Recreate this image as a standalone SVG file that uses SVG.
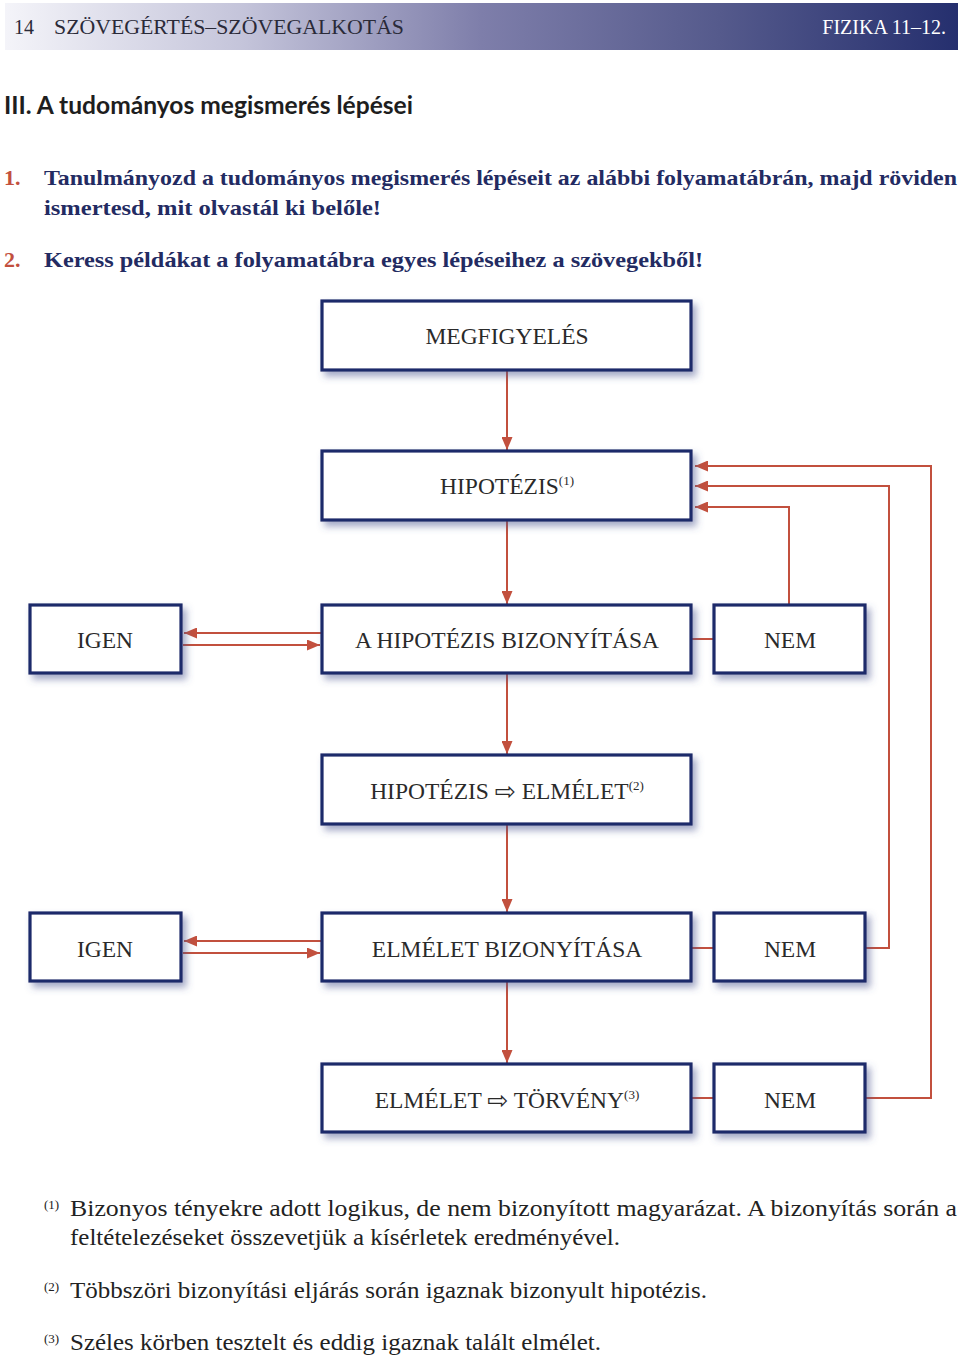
<svg xmlns="http://www.w3.org/2000/svg" width="960" height="1359" viewBox="0 0 960 1359">
<defs>
<linearGradient id="hdr" x1="0" y1="0" x2="1" y2="0">
<stop offset="0" stop-color="#f4f4f9"/>
<stop offset="0.25" stop-color="#c4c4da"/>
<stop offset="0.5" stop-color="#7e7eaa"/>
<stop offset="0.75" stop-color="#555a8c"/>
<stop offset="1" stop-color="#252f6e"/>
</linearGradient>
<filter id="sh" x="-10%" y="-20%" width="125%" height="150%">
<feDropShadow dx="4" dy="5" stdDeviation="3.5" flood-color="#4a5590" flood-opacity="0.5"/>
</filter>
<marker id="ah" viewBox="0 0 13 11" refX="13" refY="5.5" markerWidth="13" markerHeight="11" markerUnits="userSpaceOnUse" orient="auto">
<path d="M0,0 L13,5.5 L0,11 Z" fill="#c2503e"/>
</marker>
<style>
.box{fill:#fff;stroke:#1f2a6a;stroke-width:3.2;filter:url(#sh)}
.lbl{font-family:"Liberation Serif","DejaVu Serif",serif;font-size:23.5px;fill:#2a2a2a;text-anchor:middle}
.sup{font-size:13px}
.arr{font-family:"DejaVu Sans",sans-serif;font-size:25px}
.con{fill:none;stroke:#c2503e;stroke-width:2}
.q{font-family:"Liberation Serif","DejaVu Serif",serif;font-weight:bold;font-size:22px;fill:#232b62}
.qn{font-family:"Liberation Serif","DejaVu Serif",serif;font-weight:bold;font-size:22px;fill:#c2503e}
.fn{font-family:"Liberation Serif","DejaVu Serif",serif;font-size:22.5px;fill:#222}
.fs{font-family:"Liberation Serif","DejaVu Serif",serif;font-size:13px;fill:#222}
</style>
</defs>
<rect x="0" y="0" width="960" height="1359" fill="#fff"/>

<g id="header">
<rect x="5" y="3" width="953" height="47" fill="url(#hdr)"/>
<text x="14" y="34" font-family="Liberation Serif,serif" font-size="20" fill="#2a2a38">14</text>
<text x="54" y="34" font-family="Liberation Serif,serif" font-size="20" fill="#2a2a38" textLength="350" lengthAdjust="spacingAndGlyphs">SZÖVEGÉRTÉS–SZÖVEGALKOTÁS</text>
<text x="946" y="34" font-family="Liberation Serif,serif" font-size="20" fill="#fff" text-anchor="end">FIZIKA 11–12.</text>
</g>

<g id="title">
<text x="4" y="114" font-family="Lato,'Liberation Sans',sans-serif" font-weight="bold" font-size="24" fill="#1e1e1e" textLength="409" lengthAdjust="spacingAndGlyphs">III. A tudományos megismerés lépései</text>
</g>

<g id="tasks">
<text x="4" y="185" class="qn">1.</text>
<text x="44" y="185" class="q" textLength="913" lengthAdjust="spacingAndGlyphs">Tanulmányozd a tudományos megismerés lépéseit az alábbi folyamatábrán, majd röviden</text>
<text x="44" y="215" class="q" textLength="337" lengthAdjust="spacingAndGlyphs">ismertesd, mit olvastál ki belőle!</text>
<text x="4" y="267" class="qn">2.</text>
<text x="44" y="267" class="q" textLength="659" lengthAdjust="spacingAndGlyphs">Keress példákat a folyamatábra egyes lépéseihez a szövegekből!</text>
</g>

<g id="connectors">
<line class="con" x1="507" y1="371" x2="507" y2="450" marker-end="url(#ah)"/>
<line class="con" x1="507" y1="521" x2="507" y2="604" marker-end="url(#ah)"/>
<line class="con" x1="507" y1="674" x2="507" y2="754" marker-end="url(#ah)"/>
<line class="con" x1="507" y1="825" x2="507" y2="912" marker-end="url(#ah)"/>
<line class="con" x1="507" y1="982" x2="507" y2="1063" marker-end="url(#ah)"/>
<line class="con" x1="321" y1="633" x2="184" y2="633" marker-end="url(#ah)"/>
<line class="con" x1="183" y1="645" x2="320" y2="645" marker-end="url(#ah)"/>
<line class="con" x1="321" y1="941" x2="184" y2="941" marker-end="url(#ah)"/>
<line class="con" x1="183" y1="953" x2="320" y2="953" marker-end="url(#ah)"/>
<line class="con" x1="692" y1="639" x2="714" y2="639"/>
<line class="con" x1="692" y1="948" x2="714" y2="948"/>
<line class="con" x1="692" y1="1098" x2="714" y2="1098"/>
<polyline class="con" points="789,604 789,507 695,507" marker-end="url(#ah)"/>
<polyline class="con" points="866,948 889,948 889,486 695,486" marker-end="url(#ah)"/>
<polyline class="con" points="866,1098 931,1098 931,466 695,466" marker-end="url(#ah)"/>
</g>

<g id="megfigyeles"><rect class="box" x="322" y="301" width="369" height="69"/><text class="lbl" x="507" y="344">MEGFIGYELÉS</text></g>
<g id="hipotezis"><rect class="box" x="322" y="451" width="369" height="69"/><text class="lbl" x="507" y="494">HIPOTÉZIS<tspan class="sup" dy="-9">(1)</tspan></text></g>
<g id="igen1"><rect class="box" x="30" y="605" width="151" height="68"/><text class="lbl" x="105" y="648">IGEN</text></g>
<g id="hip-biz"><rect class="box" x="322" y="605" width="369" height="68"/><text class="lbl" x="507" y="648">A HIPOTÉZIS BIZONYÍTÁSA</text></g>
<g id="nem1"><rect class="box" x="714" y="605" width="151" height="68"/><text class="lbl" x="790" y="648">NEM</text></g>
<g id="hip-elm"><rect class="box" x="322" y="755" width="369" height="69"/><text class="lbl" x="507" y="799">HIPOTÉZIS <tspan class="arr" dy="1">⇨</tspan><tspan dy="-1"> ELMÉLET</tspan><tspan class="sup" dy="-9">(2)</tspan></text></g>
<g id="igen2"><rect class="box" x="30" y="913" width="151" height="68"/><text class="lbl" x="105" y="957">IGEN</text></g>
<g id="elm-biz"><rect class="box" x="322" y="913" width="369" height="68"/><text class="lbl" x="507" y="957">ELMÉLET BIZONYÍTÁSA</text></g>
<g id="nem2"><rect class="box" x="714" y="913" width="151" height="68"/><text class="lbl" x="790" y="957">NEM</text></g>
<g id="elm-torv"><rect class="box" x="322" y="1064" width="369" height="68"/><text class="lbl" x="507" y="1108">ELMÉLET <tspan class="arr" dy="1">⇨</tspan><tspan dy="-1"> TÖRVÉNY</tspan><tspan class="sup" dy="-9">(3)</tspan></text></g>
<g id="nem3"><rect class="box" x="714" y="1064" width="151" height="68"/><text class="lbl" x="790" y="1108">NEM</text></g>

<g id="footnotes">
<text class="fs" x="44" y="1209">(1)</text>
<text class="fn" x="70" y="1216" textLength="887" lengthAdjust="spacingAndGlyphs">Bizonyos tényekre adott logikus, de nem bizonyított magyarázat. A bizonyítás során a</text>
<text class="fn" x="70" y="1245" textLength="550" lengthAdjust="spacingAndGlyphs">feltételezéseket összevetjük a kísérletek eredményével.</text>
<text class="fs" x="44" y="1291">(2)</text>
<text class="fn" x="70" y="1298" textLength="637" lengthAdjust="spacingAndGlyphs">Többszöri bizonyítási eljárás során igaznak bizonyult hipotézis.</text>
<text class="fs" x="44" y="1343">(3)</text>
<text class="fn" x="70" y="1350" textLength="531" lengthAdjust="spacingAndGlyphs">Széles körben tesztelt és eddig igaznak talált elmélet.</text>
</g>
</svg>
